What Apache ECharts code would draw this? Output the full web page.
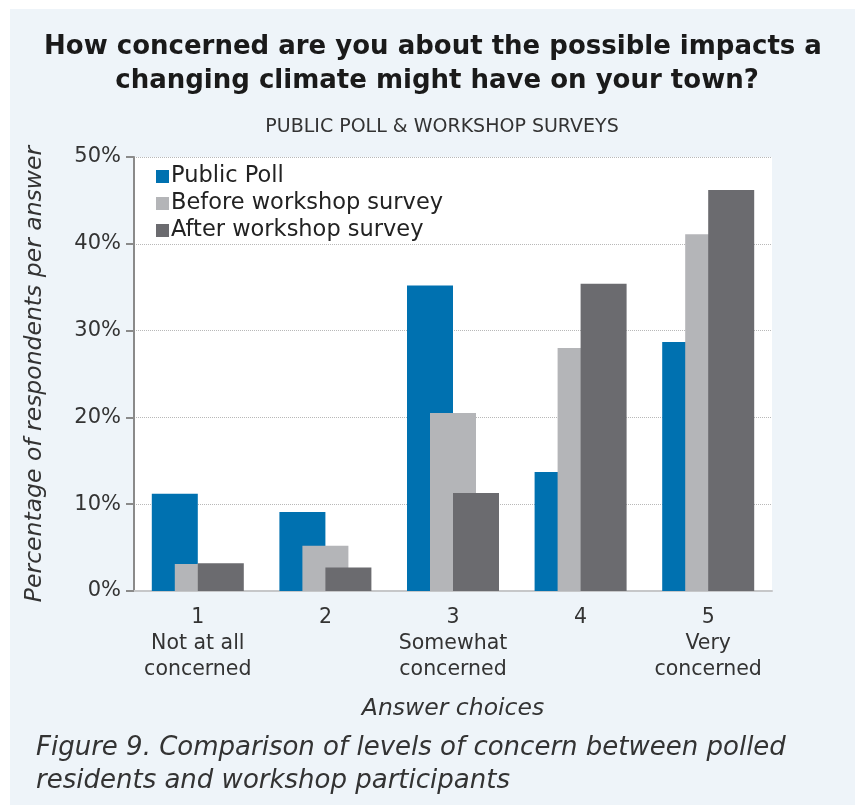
<!DOCTYPE html>
<html>
<head>
<meta charset="utf-8">
<script src="https://cdn.jsdelivr.net/npm/echarts@6/dist/echarts.min.js"></script>
<style>
  html, body { margin: 0; padding: 0; background: #ffffff; }
  #chart { width: 855px; height: 805px; }
</style>
</head>
<body>
<div id="chart"></div>
<script>
// Answer choices on the 1–5 concern scale
const categories = ['1\nNot at all\nconcerned', '2', '3\nSomewhat\nconcerned', '4', '5\nVery\nconcerned'];

// Share of respondents (%) choosing each answer
const publicPoll = [11.2, 9.1, 35.2, 13.7, 28.7];
const beforeWorkshop = [3.1, 5.2, 20.5, 28.0, 41.1];
const afterWorkshop = [3.2, 2.7, 11.3, 35.4, 46.2];

const seriesNames = ['Public Poll', 'Before workshop survey', 'After workshop survey'];
const yTicks = [0, 10, 20, 30, 40, 50];

const FONT = '"DejaVu Sans", sans-serif';
const TEXT = '#333333';

const chart = echarts.init(document.getElementById('chart'), null, { renderer: 'canvas' });

chart.setOption({
  backgroundColor: '#ffffff',
  animation: false,
  textStyle: { fontFamily: FONT },
  graphic: [
    {
      type: 'rect', silent: true, z: -10,
      shape: { x: 10, y: 9, width: 845, height: 796 },
      style: { fill: '#eef4f9' }
    },
    {
      type: 'text', silent: true,
      style: {
        x: 433, y: 47, text: 'How concerned are you about the possible impacts a',
        textAlign: 'center', textVerticalAlign: 'middle',
        font: 'bold 26px ' + FONT, fill: '#1a1a1a'
      }
    },
    {
      type: 'text', silent: true,
      style: {
        x: 437, y: 81, text: 'changing climate might have on your town?',
        textAlign: 'center', textVerticalAlign: 'middle',
        font: 'bold 26px ' + FONT, fill: '#1a1a1a'
      }
    },
    {
      type: 'text', silent: true,
      style: {
        x: 442, y: 127, text: 'PUBLIC POLL & WORKSHOP SURVEYS',
        textAlign: 'center', textVerticalAlign: 'middle',
        font: '19px ' + FONT, fill: TEXT
      }
    },
    {
      type: 'text', silent: true,
      style: {
        x: 36, y: 748, text: 'Figure 9. Comparison of levels of concern between polled',
        textAlign: 'left', textVerticalAlign: 'middle',
        font: 'italic 26px ' + FONT, fill: TEXT
      }
    },
    {
      type: 'text', silent: true,
      style: {
        x: 36, y: 781, text: 'residents and workshop participants',
        textAlign: 'left', textVerticalAlign: 'middle',
        font: 'italic 26px ' + FONT, fill: TEXT
      }
    }
  ],
  legend: {
    orient: 'vertical',
    left: 151,
    top: 160,
    icon: 'rect',
    itemWidth: 13,
    itemHeight: 13,
    itemGap: 4,
    data: seriesNames,
    textStyle: { fontSize: 22.5, color: '#222222', fontFamily: FONT, padding: [0, 0, 0, -3] }
  },
  grid: {
    left: 134, right: 83, top: 157, bottom: 214,
    show: true, backgroundColor: '#ffffff', borderWidth: 0
  },
  xAxis: {
    type: 'category',
    data: categories,
    name: 'Answer choices',
    nameLocation: 'middle',
    nameGap: 106,
    nameTextStyle: { fontSize: 23.5, fontStyle: 'italic', color: TEXT, fontFamily: FONT },
    axisLine: { lineStyle: { color: '#c6c7c9', width: 2 } },
    axisTick: { show: false },
    axisLabel: { interval: 0, fontSize: 20.5, color: TEXT, lineHeight: 26, margin: 14, fontFamily: FONT },
    splitLine: { show: false }
  },
  yAxis: {
    type: 'value',
    min: yTicks[0],
    max: yTicks[yTicks.length - 1],
    interval: 10,
    name: 'Percentage of respondents per answer',
    nameLocation: 'middle',
    nameRotate: 90,
    nameGap: 88,
    nameTextStyle: { fontSize: 23.5, fontStyle: 'italic', color: TEXT, fontFamily: FONT },
    axisLine: { show: true, lineStyle: { color: '#8a8a8a', width: 2 } },
    axisTick: { show: true, inside: false, length: 8, lineStyle: { color: '#8a8a8a', width: 2 } },
    axisLabel: { fontSize: 21, color: TEXT, margin: 13, formatter: '{value}%', fontFamily: FONT },
    splitLine: { show: true, lineStyle: { color: '#b8b8b8', type: 'dotted', width: 1 } }
  },
  series: [
    {
      name: seriesNames[0], type: 'bar', data: publicPoll,
      barWidth: 46, barGap: '-50%',
      itemStyle: { color: '#0071b0' }
    },
    {
      name: seriesNames[1], type: 'bar', data: beforeWorkshop,
      barWidth: 46, barGap: '-50%',
      itemStyle: { color: '#b4b5b8' }
    },
    {
      name: seriesNames[2], type: 'bar', data: afterWorkshop,
      barWidth: 46, barGap: '-50%',
      itemStyle: { color: '#6b6b6f' }
    }
  ]
});
</script>
</body>
</html>
